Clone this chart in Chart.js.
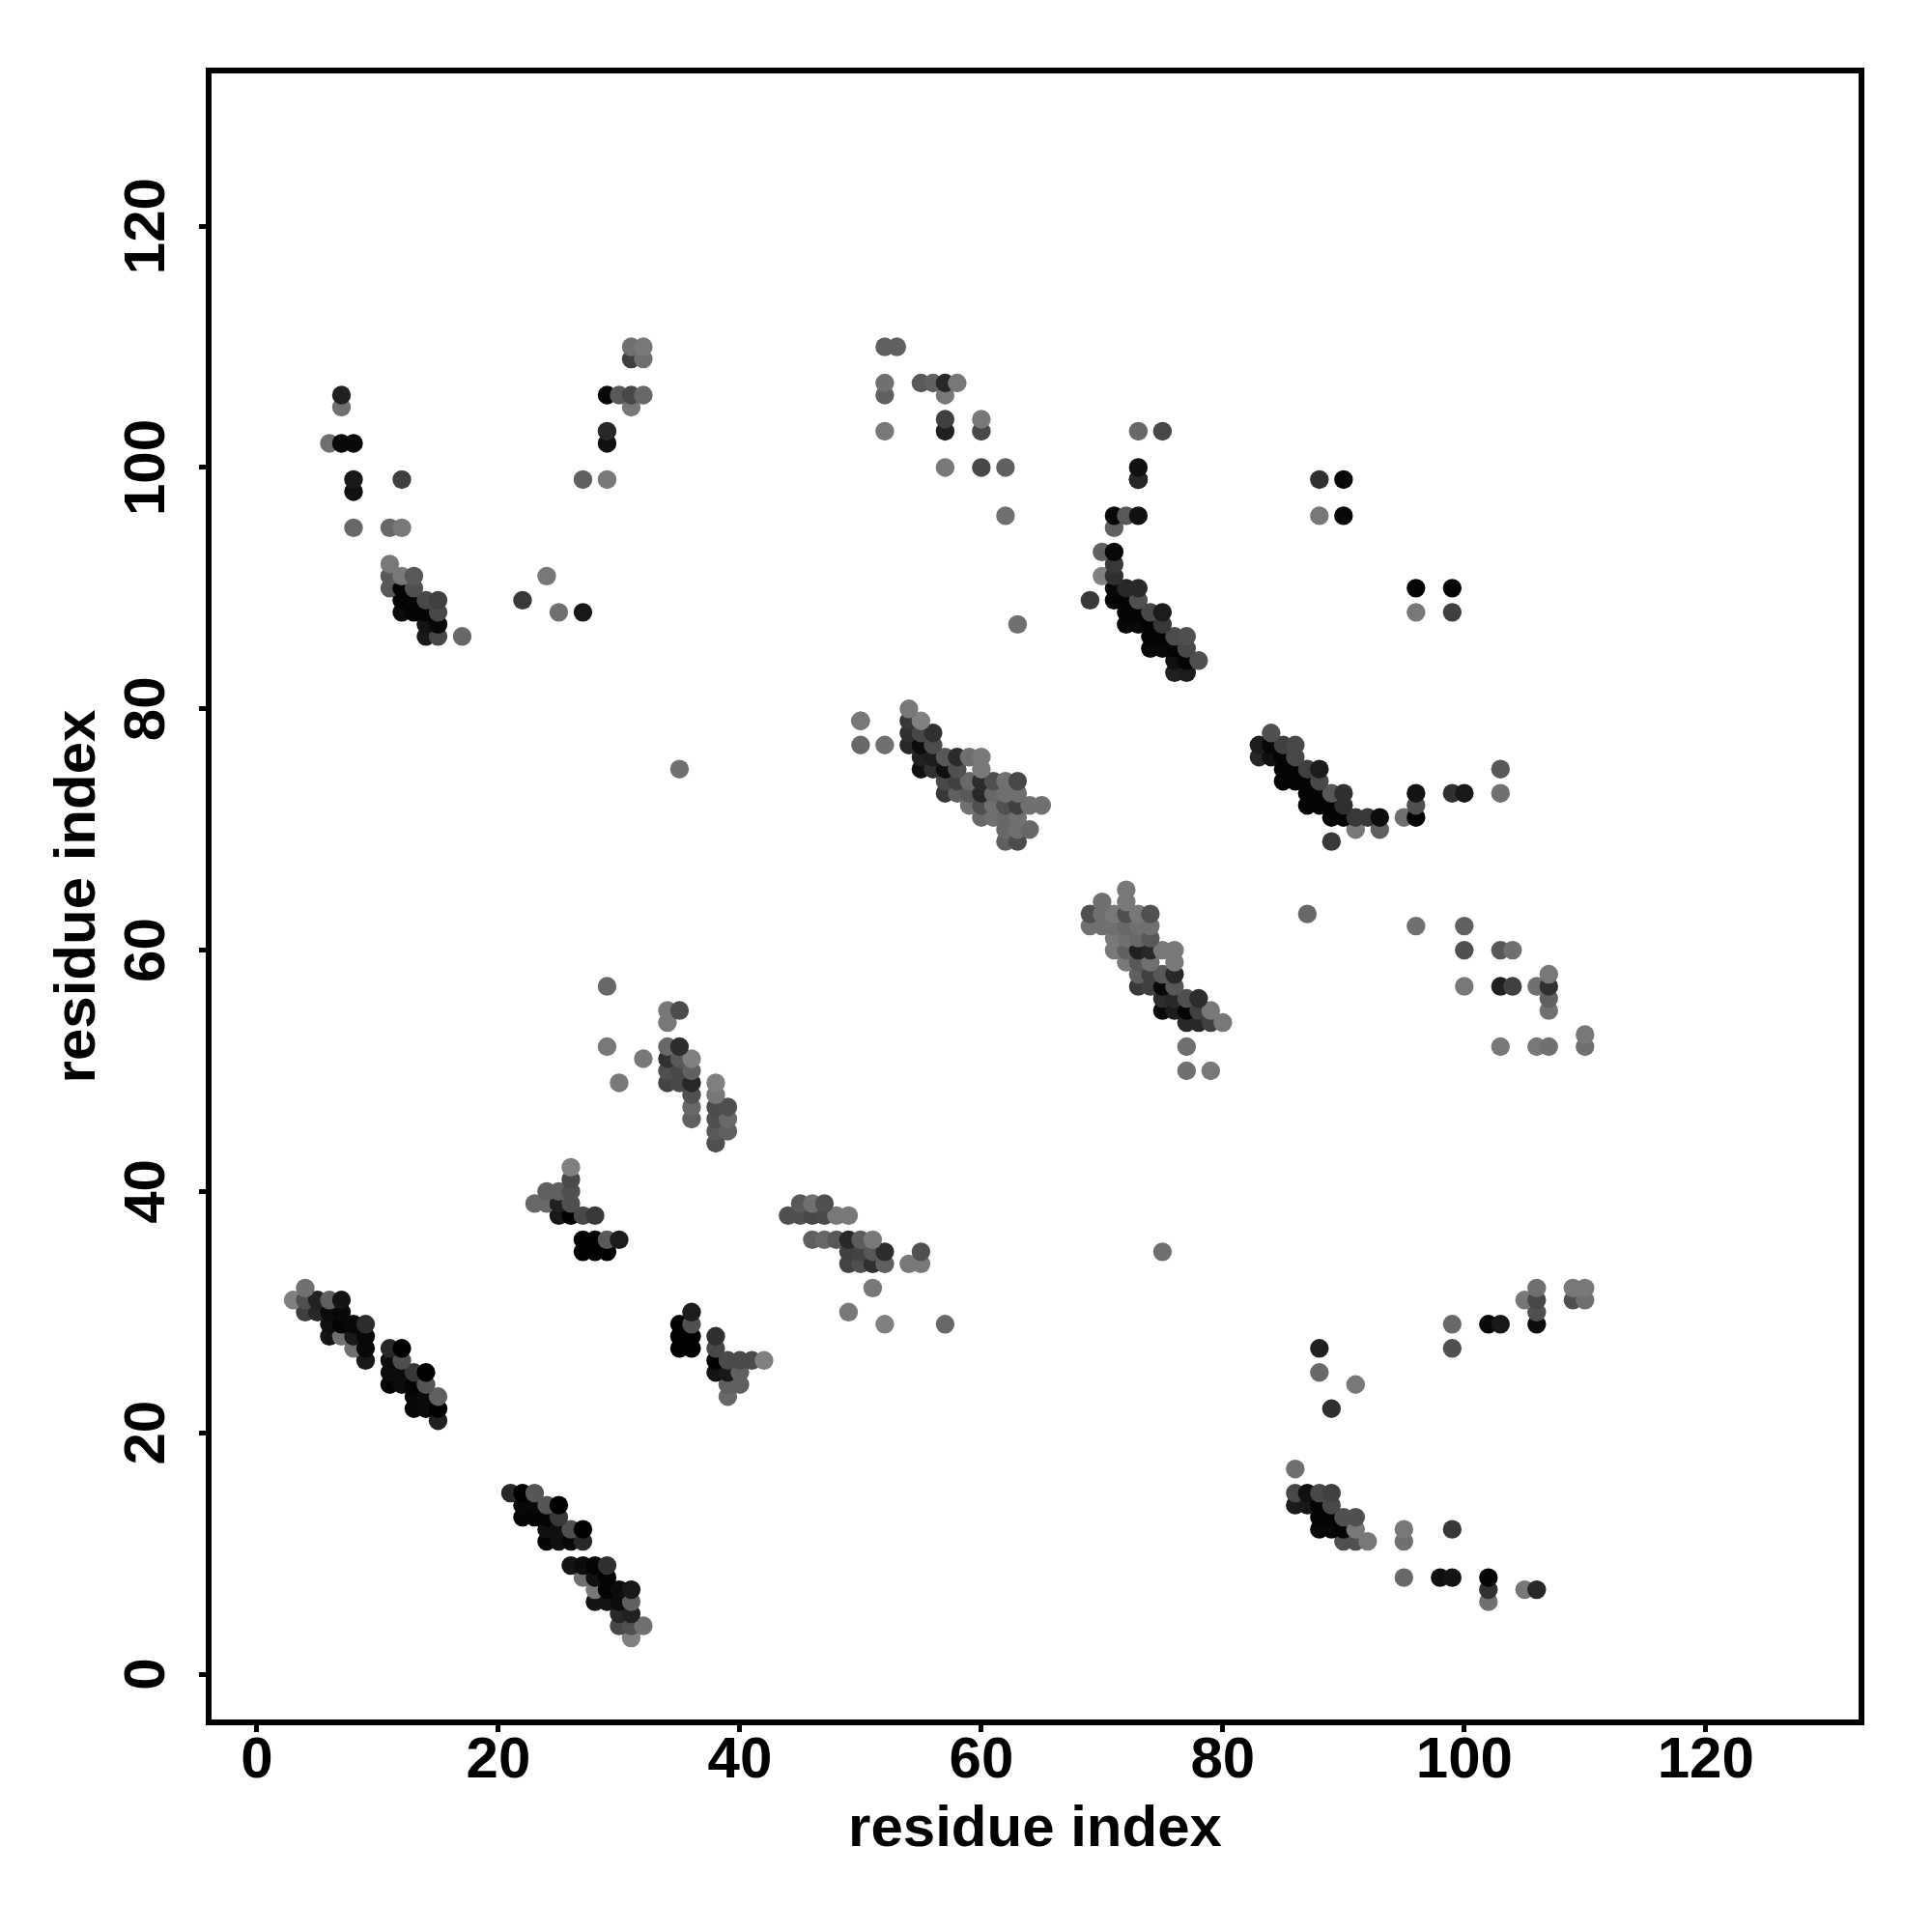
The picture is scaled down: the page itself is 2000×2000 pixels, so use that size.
<!DOCTYPE html>
<html><head><meta charset="utf-8">
<script src="https://cdn.jsdelivr.net/npm/chart.js@4"></script>
<style>html,body{margin:0;padding:0;background:#fff}#w{width:2000px;height:2000px}canvas{display:block}</style>
</head><body><div id="w"><canvas id="c" width="2000" height="2000"></canvas></div>
<script>
const axisTitle = "residue index";
const tickValues = [0,20,40,60,80,100,120];
// contacts, one line per block: residue on x, residue on y, grey level of the dot
const xValues = [
3,4,4,4,5,5,6,6,6,6,7,7,7,7,8,8,8,9,9,9,9,
11,11,11,11,12,12,12,12,13,13,13,13,14,14,14,14,15,15,15,
21,22,22,22,23,23,23,24,24,24,24,25,25,25,25,26,26,27,27,
26,27,28,29,27,28,29,28,29,30,31,28,29,30,31,30,31,30,31,32,31,
26,26,24,25,26,23,24,25,26,25,26,27,28,27,28,29,30,27,28,29,
36,35,36,35,36,35,36,38,38,38,38,39,39,39,39,40,40,40,41,42,
45,46,47,44,45,46,47,48,49,46,47,48,49,50,51,49,50,51,52,55,49,50,51,52,54,55,51,49,52,57,
29,34,35,34,29,34,35,32,34,35,36,34,35,36,30,34,35,36,38,36,38,36,38,39,36,38,39,38,39,38,
54,54,55,54,55,56,50,50,52,54,55,56,55,56,57,58,59,60,55,56,57,58,60,
57,58,59,60,61,62,63,57,58,59,60,61,62,63,59,60,61,62,63,64,65,60,61,62,63,62,63,64,62,63,
72,70,72,69,70,71,72,73,74,69,70,71,72,73,74,71,72,73,74,71,72,73,74,75,76,72,73,74,76,
73,74,75,76,73,74,75,76,75,76,77,78,75,76,77,78,79,77,78,79,80,77,77,79,
73,73,71,72,73,71,70,71,71,70,71,71,72,73,69,71,72,73,72,73,74,75,72,73,74,75,74,75,76,77,74,75,76,77,76,77,78,76,77,
84,83,84,85,86,83,84,85,86,85,86,87,88,85,86,87,88,87,88,89,90,87,88,89,90,89,90,91,92,93,91,93,89,95,96,96,96,
11,12,11,11,12,13,11,12,13,12,13,14,15,12,13,14,15,14,15,14,15,17,
86,86,87,88,89,86,87,88,89,88,89,90,91,88,89,90,91,90,91,92,95,95,95,
7,7,6,7,8,8,8,8,12,22,24,25,27,27,29,29,29,29,30,31,32,31,31,32,31,32,
35,52,53,52,52,52,55,56,57,58,57,57,57,57,60,60,60,62,62,63,50,
73,75,73,73,88,90,88,90,96,99,96,99,99,100,103,103,
87,96,100,100,100,103,104,103,104,103,106,107,107,107,107,106,107,110,110,
75,88,88,89,91,99,99,102,103,105,106,106,106,106,109,110,109,110,98,99,99,102,102,102,105,106
];
const yValues = [
31,32,31,30,31,30,31,30,29,28,31,30,29,28,29,28,27,29,28,27,26,
27,26,25,24,27,26,25,24,25,24,23,22,25,24,23,22,23,22,21,
15,15,14,13,15,14,13,14,13,12,11,14,13,12,11,12,11,12,11,
9,9,9,9,8,8,8,7,7,7,7,6,6,6,6,5,5,4,4,4,3,
42,41,40,40,40,39,39,39,39,38,38,38,38,36,36,36,36,35,35,35,
30,29,29,28,28,27,27,28,27,26,25,26,25,24,23,26,25,24,26,26,
39,39,39,38,38,38,38,38,38,36,36,36,36,36,36,35,35,35,35,35,34,34,34,34,34,34,32,30,29,29,
57,55,55,54,52,52,52,51,51,51,51,50,50,50,49,49,49,49,49,48,48,47,47,47,46,46,46,45,45,44,
80,79,79,78,78,78,79,77,77,77,77,77,76,76,76,76,76,76,75,75,75,75,75,
74,74,74,74,74,74,74,73,73,73,73,73,73,73,72,72,72,72,72,72,72,71,71,71,71,70,70,70,69,69,
65,64,64,63,63,63,63,63,63,62,62,62,62,62,62,61,61,61,61,60,60,60,60,60,60,59,59,59,59,
58,58,58,58,57,57,57,57,56,56,56,56,55,55,55,55,55,54,54,54,54,52,50,50,
100,99,96,96,96,95,93,93,92,91,91,90,90,90,89,89,89,89,88,88,88,88,87,87,87,87,86,86,86,86,85,85,85,85,84,84,84,83,83,
78,77,77,77,77,76,76,76,76,75,75,75,75,74,74,74,74,73,73,73,73,72,72,72,72,71,71,71,71,71,70,70,69,71,73,72,71,
95,95,92,91,91,91,90,90,90,89,89,89,89,88,88,88,88,87,87,86,86,86,
17,15,15,15,15,14,14,14,14,13,13,13,13,12,12,12,12,11,11,11,12,11,8,
106,105,102,102,102,99,98,95,99,89,91,88,88,99,99,103,102,106,106,106,106,105,110,110,109,109,
75,110,110,107,106,103,107,107,107,107,106,104,103,100,104,103,100,100,96,87,79,
103,103,99,99,99,99,96,96,90,90,88,88,73,73,75,73,
63,62,62,60,57,60,60,57,57,52,57,58,57,56,55,52,52,53,52,
35,27,25,22,24,29,27,29,29,31,32,31,30,29,32,32,31,31,8,8,12,8,7,6,7,7
];
const shadeValues = [
0x80,0x70,0x4f,0x40,0x22,0x28,0x60,0x0c,0x10,0x14,0x14,0x08,0x04,0x70,0x08,0x18,0x70,0x2c,0x08,0x08,0x18,
0x28,0x0c,0x0c,0x04,0x00,0x4f,0x0c,0x0c,0x38,0x04,0x08,0x08,0x00,0x55,0x0a,0x0a,0x60,0x00,0x20,
0x28,0x00,0x08,0x04,0x55,0x08,0x04,0x55,0x04,0x10,0x04,0x00,0x38,0x10,0x10,0x50,0x08,0x00,0x28,
0x14,0x0c,0x04,0x30,0x70,0x10,0x04,0x78,0x04,0x0c,0x18,0x14,0x14,0x0c,0x60,0x28,0x20,0x48,0x50,0x70,0x80,
0x80,0x4a,0x60,0x60,0x50,0x68,0x68,0x20,0x50,0x18,0x00,0x48,0x38,0x00,0x00,0x5a,0x1c,0x00,0x00,0x00,
0x1c,0x00,0x50,0x00,0x00,0x00,0x00,0x30,0x48,0x00,0x14,0x4a,0x18,0x60,0x68,0x4a,0x60,0x60,0x4a,0x80,
0x58,0x70,0x50,0x50,0x50,0x48,0x4a,0x78,0x78,0x60,0x68,0x58,0x28,0x5c,0x78,0x40,0x44,0x58,0x2c,0x50,0x44,0x50,0x30,0x60,0x78,0x78,0x78,0x78,0x80,0x68,
0x68,0x78,0x4c,0x78,0x78,0x68,0x2c,0x78,0x30,0x58,0x80,0x50,0x48,0x60,0x78,0x44,0x48,0x28,0x80,0x50,0x78,0x68,0x4c,0x50,0x60,0x50,0x68,0x58,0x60,0x50,
0x78,0x38,0x80,0x30,0x48,0x30,0x78,0x68,0x70,0x28,0x0c,0x4c,0x20,0x1c,0x58,0x2c,0x70,0x78,0x10,0x30,0x10,0x50,0x78,
0x48,0x40,0x68,0x2c,0x50,0x70,0x48,0x38,0x60,0x58,0x28,0x68,0x70,0x70,0x70,0x50,0x70,0x50,0x40,0x70,0x70,0x68,0x70,0x68,0x70,0x68,0x70,0x68,0x60,0x4c,
0x78,0x70,0x78,0x50,0x70,0x78,0x50,0x78,0x50,0x70,0x70,0x70,0x68,0x70,0x70,0x78,0x70,0x68,0x58,0x78,0x60,0x20,0x28,0x78,0x78,0x78,0x58,0x70,0x78,
0x60,0x40,0x58,0x28,0x38,0x40,0x08,0x58,0x2c,0x28,0x50,0x2c,0x08,0x1c,0x04,0x40,0x78,0x28,0x28,0x40,0x78,0x70,0x70,0x78,
0x10,0x28,0x08,0x58,0x10,0x60,0x60,0x08,0x38,0x80,0x30,0x08,0x28,0x28,0x38,0x04,0x04,0x50,0x04,0x04,0x48,0x1c,0x08,0x08,0x04,0x38,0x04,0x04,0x4c,0x50,0x08,0x08,0x04,0x48,0x10,0x04,0x50,0x20,0x1c,
0x50,0x1c,0x08,0x40,0x48,0x28,0x10,0x04,0x48,0x04,0x04,0x40,0x1c,0x04,0x04,0x04,0x48,0x04,0x04,0x58,0x30,0x04,0x04,0x04,0x30,0x04,0x04,0x38,0x38,0x0c,0x78,0x60,0x38,0x70,0x14,0x50,0x04,
0x68,0x78,0x78,0x58,0x78,0x58,0x58,0x04,0x50,0x04,0x04,0x48,0x40,0x0c,0x04,0x04,0x48,0x14,0x08,0x18,0x48,0x68,
0x70,0x48,0x10,0x48,0x40,0x1c,0x18,0x04,0x48,0x04,0x04,0x50,0x50,0x08,0x08,0x04,0x78,0x50,0x50,0x78,0x78,0x70,0x68,
0x20,0x70,0x70,0x08,0x08,0x18,0x10,0x68,0x40,0x38,0x78,0x70,0x18,0x60,0x78,0x28,0x10,0x08,0x58,0x48,0x68,0x78,0x70,0x78,0x40,0x70,
0x70,0x60,0x60,0x70,0x60,0x78,0x58,0x60,0x28,0x78,0x78,0x40,0x20,0x78,0x78,0x48,0x48,0x60,0x70,0x70,0x78,
0x68,0x48,0x28,0x28,0x30,0x08,0x78,0x08,0x04,0x04,0x78,0x40,0x30,0x18,0x58,0x70,
0x68,0x70,0x60,0x50,0x78,0x58,0x70,0x20,0x40,0x78,0x70,0x78,0x30,0x60,0x70,0x78,0x70,0x78,0x70,
0x70,0x20,0x68,0x30,0x78,0x68,0x50,0x08,0x18,0x78,0x70,0x48,0x50,0x0c,0x78,0x78,0x50,0x70,0x10,0x14,0x38,0x04,0x30,0x70,0x78,0x28
];
if (xValues.length!==yValues.length || xValues.length!==shadeValues.length) console.error("len",xValues.length,yValues.length,shadeValues.length);

const order = xValues.map((_,i)=>i).sort((a,b)=>(yValues[a]-yValues[b])||(xValues[a]-xValues[b]));
const points = order.map(i=>({x:xValues[i],y:yValues[i]}));
const colours = order.map(i=>{const s=shadeValues[i];return `rgb(${s},${s},${s})`;});

const frame = {id:'frame',afterDatasetsDraw(ch){
  const a=ch.chartArea,c=ch.ctx;c.save();c.strokeStyle='#000';c.lineWidth=6;
  c.strokeRect(a.left,a.top,a.right-a.left,a.bottom-a.top);c.restore();}};
const font={family:'"Liberation Sans"',size:60,weight:'bold'};
const setTicks=s=>{s.ticks=tickValues.map(v=>({value:v,label:String(v)}));};

new Chart(document.getElementById('c'),{
  type:'scatter',
  data:{datasets:[{data:points,pointBackgroundColor:colours,pointBorderWidth:0,pointRadius:9.7,pointHoverRadius:9.7,showLine:false}]},
  plugins:[frame],
  options:{
    responsive:false,animation:false,events:[],
    layout:{padding:{top:73,right:73,left:0,bottom:0}},
    plugins:{legend:{display:false},tooltip:{enabled:false},title:{display:false}},
    scales:{
      x:{type:'linear',position:'bottom',min:-4,max:132.9,
        afterBuildTicks:setTicks,
        afterFit(s){s.height=217;},
        border:{display:false},
        grid:{drawOnChartArea:false,drawTicks:true,tickLength:10,tickWidth:5,tickColor:'#000'},
        ticks:{autoSkip:false,maxRotation:0,minRotation:0,color:'#000',font,padding:-6},
        title:{display:true,text:axisTitle,color:'#000',font,padding:{top:0,bottom:70}}},
      y:{type:'linear',position:'left',min:-4,max:132.9,
        afterBuildTicks:setTicks,
        afterFit(s){s.width=216;},
        border:{display:false},
        grid:{drawOnChartArea:false,drawTicks:true,tickLength:10,tickWidth:5,tickColor:'#000'},
        ticks:{autoSkip:false,minRotation:90,maxRotation:90,crossAlign:'center',color:'#000',font,padding:2},
        title:{display:true,text:axisTitle,color:'#000',font,padding:{top:45,bottom:0}}}
    }
  }
});
</script></body></html>
